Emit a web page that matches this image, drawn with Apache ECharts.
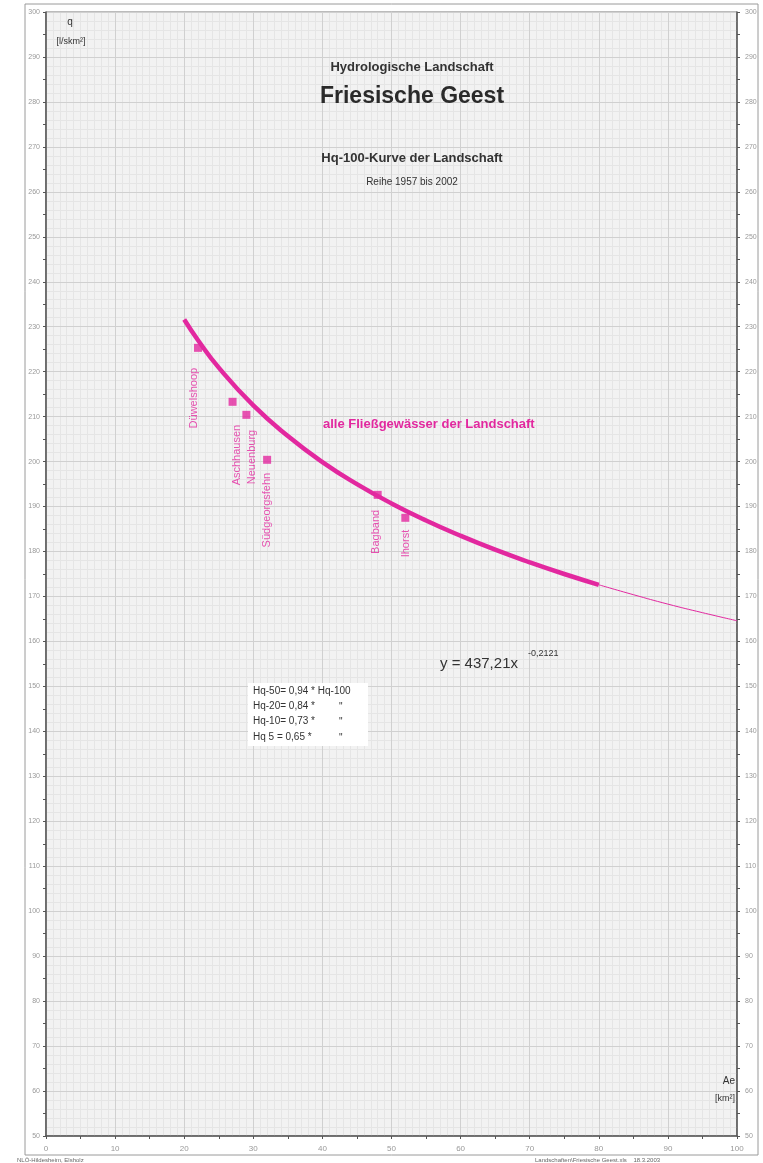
<!DOCTYPE html>
<html><head><meta charset="utf-8">
<script src="https://cdn.jsdelivr.net/npm/echarts@6/dist/echarts.min.js"></script>
<style>html,body{margin:0;padding:0;background:#fff}#c{width:763px;height:1163px}</style>
</head><body><div id="c"></div>
<script>
// Hq-100 curve (Ae in km², q in l/(s·km²))
var curveX = [20, 22, 25, 30, 35, 40, 45, 50, 55, 60, 65, 70, 75, 80];
var curveQ = [231.6, 227.0, 220.9, 212.5, 205.7, 199.9, 195.0, 190.7, 186.9, 183.5, 180.4, 177.6, 175.0, 172.6];
var extX = [80, 85, 90, 95, 100];
var extQ = [172.6, 170.4, 168.3, 166.4, 164.6];
// gauging stations
var stationNames = ['Düwelshoop', 'Aschhausen', 'Neuenburg', 'Südgeorgsfehn', 'Bagband', 'Ihorst'];
var stationAe = [22, 27, 29, 32, 48, 52];
var stationQ = [225.3, 213.3, 210.4, 200.4, 192.6, 187.5];
var labelShift = [[-4, 16], [4, 19], [6, 11], [0, 9], [-2, 11], [1, 8]];

var MAG = '#e2289f';
var FONT = 'Liberation Sans, Arial, sans-serif';
var chart = echarts.init(document.getElementById('c'));

function pairs(xs, ys) { return xs.map(function (x, i) { return [x, ys[i]]; }); }

var stationData = stationNames.map(function (n, i) {
  return {
    name: n, value: [stationAe[i], stationQ[i]],
    label: { position: [4 + labelShift[i][0], 8 + labelShift[i][1]] }
  };
});

var axisLblY = { color: '#999', fontSize: 7, fontFamily: FONT };
chart.setOption({
  animation: false,
  grid: { left: 46, right: 26, top: 12, bottom: 27, show: true, backgroundColor: '#f2f2f2', borderColor: '#777', borderWidth: 1 },
  xAxis: [
    { type: 'value', min: 0, max: 100, interval: 10, position: 'bottom',
      axisLine: { onZero: false, lineStyle: { color: '#555', width: 1.5 } },
      axisTick: { show: true, length: 3, lineStyle: { color: '#555' } },
      minorTick: { show: true, splitNumber: 2, length: 3, lineStyle: { color: '#555' } },
      axisLabel: { color: '#999', fontSize: 8, fontFamily: FONT, margin: 9 },
      splitLine: { show: true, lineStyle: { color: '#d0d0d0', width: 1 } }, z: 3 },
    { type: 'value', min: 0, max: 100, interval: 1, position: 'top',
      axisLine: { show: false }, axisTick: { show: false }, axisLabel: { show: false },
      splitLine: { show: true, lineStyle: { color: '#e5e5e5', width: 1 } }, z: 1 }
  ],
  yAxis: [
    { type: 'value', min: 50, max: 300, interval: 10, position: 'left',
      axisLine: { show: true, onZero: false, lineStyle: { color: '#555', width: 1.5 } },
      axisTick: { show: true, length: 3, lineStyle: { color: '#555' } },
      minorTick: { show: true, splitNumber: 2, length: 3, lineStyle: { color: '#555' } },
      axisLabel: Object.assign({ margin: 6 }, axisLblY),
      splitLine: { show: true, lineStyle: { color: '#d0d0d0', width: 1 } }, z: 3 },
    { type: 'value', min: 50, max: 300, interval: 10, position: 'right',
      axisLine: { show: true, onZero: false, lineStyle: { color: '#555', width: 1.5 } },
      axisTick: { show: true, length: 3, lineStyle: { color: '#555' } },
      minorTick: { show: true, splitNumber: 2, length: 3, lineStyle: { color: '#555' } },
      axisLabel: Object.assign({ margin: 8 }, axisLblY),
      splitLine: { show: false }, z: 3 },
    { type: 'value', min: 50, max: 300, interval: 2, position: 'left',
      axisLine: { show: false }, axisTick: { show: false }, axisLabel: { show: false },
      splitLine: { show: true, lineStyle: { color: '#e5e5e5', width: 1 } }, z: 1 }
  ],
  series: [
    { type: 'line', name: 'Hq100', data: pairs(curveX, curveQ), smooth: true, symbol: 'none',
      lineStyle: { color: MAG, width: 4.5 }, z: 5 },
    { type: 'line', name: 'ext', data: pairs(extX, extQ), smooth: true, symbol: 'none',
      lineStyle: { color: MAG, width: 1 }, z: 5 },
    { type: 'scatter', name: 'Pegel', data: stationData, symbol: 'rect', symbolSize: 8,
      itemStyle: { color: MAG }, z: 6,
      label: { show: true, formatter: '{b}', rotate: 90, align: 'right', verticalAlign: 'middle',
        color: MAG, fontSize: 11, fontFamily: FONT } }
  ],
  graphic: [
    { type: 'rect', shape: { x: 25, y: 4, width: 733, height: 1151 }, style: { fill: 'none', stroke: '#9a9a9a', lineWidth: 1 }, z: -10, silent: true },
    { type: 'text', x: 412, y: 67, style: { text: 'Hydrologische Landschaft', font: 'bold 13px ' + FONT, fill: '#333', align: 'center', verticalAlign: 'middle' }, z: 20 },
    { type: 'text', x: 412, y: 97, style: { text: 'Friesische Geest', font: 'bold 23px ' + FONT, fill: '#2a2a2a', align: 'center', verticalAlign: 'middle' }, z: 20 },
    { type: 'text', x: 412, y: 158, style: { text: 'Hq-100-Kurve der Landschaft', font: 'bold 13px ' + FONT, fill: '#333', align: 'center', verticalAlign: 'middle' }, z: 20 },
    { type: 'text', x: 412, y: 182, style: { text: 'Reihe 1957 bis 2002', font: '10px ' + FONT, fill: '#333', align: 'center', verticalAlign: 'middle' }, z: 20 },
    { type: 'text', x: 70, y: 22, style: { text: 'q', font: '10px ' + FONT, fill: '#333', align: 'center', verticalAlign: 'middle' }, z: 20 },
    { type: 'text', x: 71, y: 42, style: { text: '[l/skm²]', font: '9px ' + FONT, fill: '#333', align: 'center', verticalAlign: 'middle' }, z: 20 },
    { type: 'text', x: 735, y: 1081, style: { text: 'Ae', font: '10px ' + FONT, fill: '#333', align: 'right', verticalAlign: 'middle' }, z: 20 },
    { type: 'text', x: 735, y: 1099, style: { text: '[km²]', font: '9px ' + FONT, fill: '#333', align: 'right', verticalAlign: 'middle' }, z: 20 },
    { type: 'text', x: 323, y: 424, style: { text: 'alle Fließgewässer der Landschaft', font: 'bold 13px ' + FONT, fill: MAG, align: 'left', verticalAlign: 'middle' }, z: 20 },
    { type: 'text', x: 440, y: 664, style: { text: 'y = 437,21x', font: '15px ' + FONT, fill: '#333', align: 'left', verticalAlign: 'middle' }, z: 20 },
    { type: 'text', x: 528, y: 654, style: { text: '-0,2121', font: '9px ' + FONT, fill: '#333', align: 'left', verticalAlign: 'middle' }, z: 20 },
    { type: 'rect', shape: { x: 248, y: 683, width: 120, height: 63 }, style: { fill: '#fff', stroke: 'none' }, z: 19 },
    { type: 'text', x: 253, y: 691, style: { text: 'Hq-50= 0,94 * Hq-100', font: '10px ' + FONT, fill: '#333', verticalAlign: 'middle' }, z: 20 },
    { type: 'text', x: 253, y: 706, style: { text: 'Hq-20= 0,84 *', font: '10px ' + FONT, fill: '#333', verticalAlign: 'middle' }, z: 20 },
    { type: 'text', x: 253, y: 721, style: { text: 'Hq-10= 0,73 *', font: '10px ' + FONT, fill: '#333', verticalAlign: 'middle' }, z: 20 },
    { type: 'text', x: 253, y: 737, style: { text: 'Hq 5 = 0,65 *', font: '10px ' + FONT, fill: '#333', verticalAlign: 'middle' }, z: 20 },
    { type: 'text', x: 339, y: 707, style: { text: '"', font: '10px ' + FONT, fill: '#333', verticalAlign: 'middle' }, z: 20 },
    { type: 'text', x: 339, y: 722, style: { text: '"', font: '10px ' + FONT, fill: '#333', verticalAlign: 'middle' }, z: 20 },
    { type: 'text', x: 339, y: 738, style: { text: '"', font: '10px ' + FONT, fill: '#333', verticalAlign: 'middle' }, z: 20 },
    { type: 'text', x: 17, y: 1160, style: { text: 'NLÖ-Hildesheim, Elsholz', font: '6px ' + FONT, fill: '#666', verticalAlign: 'middle' }, z: 20 },
    { type: 'text', x: 535, y: 1160, style: { text: 'Landschaften\\Friesische Geest.xls    18.3.2003', font: '6px ' + FONT, fill: '#666', verticalAlign: 'middle' }, z: 20 }
  ]
});
</script></body></html>
